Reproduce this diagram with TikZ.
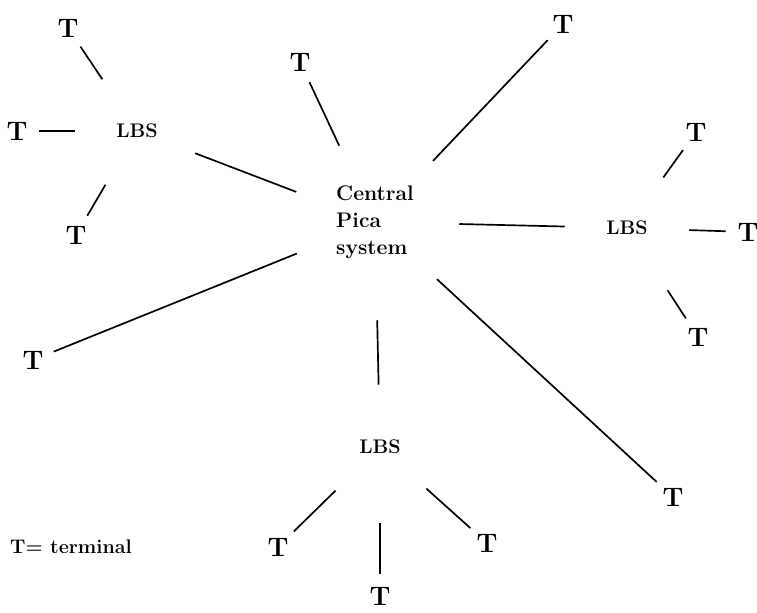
\documentclass[tikz,border=0pt]{standalone}
\usepackage{tikz}
\usetikzlibrary{positioning}

\begin{document}
\begin{tikzpicture}[
on grid,
term/.style={circle, minimum size=11mm, inner sep=0pt, font=\fontsize{19}{21}\selectfont\bfseries},
lbs/.style={circle, minimum size=31mm, inner sep=0pt, font=\fontsize{14}{16}\selectfont\bfseries},
hub/.style={circle, minimum size=42mm, inner sep=0pt, align=left, font=\fontsize{15}{19.2}\selectfont\bfseries},
wire/.style={line width=1.2pt},
]
\useasboundingbox (-93.75mm,55.5mm) rectangle (95.5mm,-97.75mm);

\node[hub] (central) {Central\\Pica\\system};

\node[lbs] (lbs_l) [above left=22.75mm and 59.5mm of central] {LBS};
\node[term] (t_l1) [above left=25.75mm and 17.25mm of lbs_l] {T};
\node[term] (t_l2) [left=30mm of lbs_l] {T};
\node[term] (t_l3) [below left=26mm and 15.25mm of lbs_l] {T};

\node[term] (t_top1) [above left=40mm and 18.75mm of central] {T};
\node[term] (t_top2) [above right=49.5mm and 47mm of central] {T};

\node[lbs] (lbs_r) [below right=1.5mm and 63mm of central] {LBS};
\node[term] (t_r1) [above right=24mm and 17.25mm of lbs_r] {T};
\node[term] (t_r2) [below right=1mm and 30.25mm of lbs_r] {T};
\node[term] (t_r3) [below right=27.25mm and 17.75mm of lbs_r] {T};

\node[term] (t_left) [below left=34.5mm and 85.5mm of central] {T};
\node[term] (t_right) [below right=68.75mm and 74.5mm of central] {T};

\node[lbs] (lbs_b) [below right=56.25mm and 1.25mm of central] {LBS};
\node[term] (t_b1) [below left=25mm and 25.5mm of lbs_b] {T};
\node[term] (t_b2) [below=37.25mm of lbs_b] {T};
\node[term] (t_b3) [below right=24mm and 26.75mm of lbs_b] {T};

\node[font=\fontsize{14}{16}\selectfont\bfseries] (key) [left=51.75mm of t_b1] {T= terminal};

\draw[wire] (central) -- (lbs_l);
\draw[wire] (central) -- (t_top1);
\draw[wire] (central) -- (t_top2);
\draw[wire] (central) -- (lbs_r);
\draw[wire] (central) -- (t_left);
\draw[wire] (central) -- (t_right);
\draw[wire, shorten <=3.5mm] (central) -- (lbs_b);

\draw[wire] (lbs_l) -- (t_l1);
\draw[wire] (lbs_l) -- (t_l2);
\draw[wire] (lbs_l) -- (t_l3);

\draw[wire] (lbs_r) -- (t_r1);
\draw[wire] (lbs_r) -- (t_r2);
\draw[wire, shorten <=3mm] (lbs_r) -- (t_r3);

\draw[wire] (lbs_b) -- (t_b1);
\draw[wire, shorten <=3.5mm] (lbs_b) -- (t_b2);
\draw[wire] (lbs_b) -- (t_b3);
\end{tikzpicture}
\end{document}
